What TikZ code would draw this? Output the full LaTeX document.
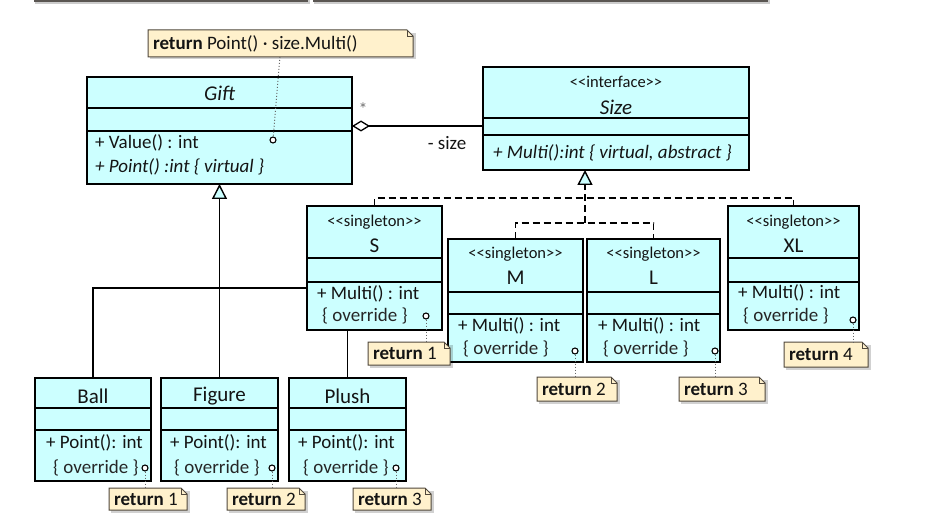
\documentclass[tikz,border=0pt]{standalone}
\usepackage{fontspec}
\setmainfont{Carlito}
\usetikzlibrary{arrows.meta}
\definecolor{clsfill}{RGB}{204,255,255}
\definecolor{notefill}{RGB}{255,241,204}
\definecolor{noteline}{RGB}{80,72,60}
\definecolor{txtc}{RGB}{20,20,20}
\definecolor{barc}{RGB}{90,86,82}

\newcommand\stlt{<\kern0pt<}
\newcommand\stgt{>\kern0pt>}

\newcommand\umlbox[7]{%
  \pgfmathsetmacro\bw{#4-#2}%
  \pgfmathsetmacro\bh{#7-#3}%
  \node[clsbox, minimum width=\bw pt, minimum height=\bh pt] (#1) at ({(#2+#4)/2},{(#3+#7)/2}) {};
  \draw[clsline] (#2,#5) -- (#4,#5);
  \draw[clsline] (#2,#6) -- (#4,#6);
}
\newcommand\umlnote[6]{%
  \pgfmathsetmacro\nw{#4-#2}%
  \pgfmathsetmacro\nh{#5-#3}%
  \fill[black, opacity=0.18] ({#2+2},{#3+3}) rectangle ({#4+2.5},{#5+2.5});
  \filldraw[notebox] (#2,#3) -- ({#4-6},#3) -- (#4,{#3+6}) -- (#4,#5) -- (#2,#5) -- cycle;
  \draw[notebox, fill=none, line width=0.8pt] ({#4-6},#3) -- ({#4-6},{#3+6}) -- (#4,{#3+6});
  \node[inner sep=0pt, outer sep=0pt, minimum width=\nw pt, minimum height=\nh pt] (#1) at ({(#2+#4)/2},{(#3+#5)/2}) {};
  \node[notetxt, anchor=west] (#1-text) at ({#2+5},{(#3+#5)/2}) {#6};
}

\begin{document}
\begin{tikzpicture}[x=1pt,y=-1pt,
  clsbox/.style={draw=black, line width=1.4pt, fill=clsfill, inner sep=0pt, outer sep=0pt},
  clsline/.style={draw=black, line width=1.2pt},
  notebox/.style={draw=noteline, line width=1pt, fill=notefill},
  notetxt/.style={inner sep=0pt, outer sep=0pt, text=txtc, font=\fontsize{19}{22}\selectfont},
  txt/.style={inner sep=0pt, text=txtc, font=\fontsize{19}{22}\selectfont},
  itxt/.style={txt, font=\fontsize{19}{22}\selectfont\itshape},
  nametxt/.style={inner sep=0pt, text=txtc, font=\fontsize{21}{24}\selectfont},
  inametxt/.style={nametxt, font=\fontsize{21}{24}\selectfont\itshape},
  stereo/.style={inner sep=0pt, text=txtc, font=\fontsize{16.5}{19}\selectfont},
  ovr/.style={txt, text=black!85},
  port/.style={circle, draw=black, line width=1.1pt, fill=white, minimum size=6pt, inner sep=0pt},
  dotc/.style={draw=black!60, line width=1pt, dotted},
  gen/.style={draw=black, line width=1.5pt},
  realz/.style={draw=black, line width=1.5pt, dash pattern=on 7pt off 4pt},
  hollowtri/.style={-{Triangle[length=15pt, width=15pt, fill=clsfill, line width=1.4pt]}},
]
\useasboundingbox (0,0) rectangle (931,518);

% cut-off bars at top edge
\fill[black!20] (35,0) rectangle (310,4);
\fill[black!20] (314,0) rectangle (770,4);
\fill[barc] (34,-4) rectangle (308,2);
\fill[barc] (313,-4) rectangle (768,2);

% helper coordinates
\coordinate (jn) at (219.5,288);
\coordinate (aggy) at (0,126);
\coordinate (r1) at (585,198);
\coordinate (r2) at (585,223);
\coordinate (gx) at (280,0);

% ---------- classes ----------
\umlbox{gift}{87}{77}{352}{108}{131}{184}
\umlbox{size}{483}{67}{749}{118}{135}{170}

\umlbox{ball}{35}{378}{151}{408}{430}{481}
\umlbox{figure}{161}{378}{278}{408}{430}{481}
\umlbox{plush}{289}{378}{406}{408}{430}{481}
\draw[gen] (ball.north) |- (jn);
\draw[gen] (plush.north) |- (jn);
\draw[gen, hollowtri] (figure.north) -- (gift.south);

\umlbox{s}{307}{206}{442}{258}{282}{330}
\umlbox{m}{448}{239}{583}{292}{314}{362}
\umlbox{l}{587}{239}{720}{292}{314}{362}
\umlbox{xl}{728}{206}{859}{258}{282}{330}

% realization connectors
\draw[realz] (s.north) -- (s.north |- r1) -- (xl.north |- r1) -- (xl.north);
\draw[realz] (m.north) -- (m.north |- r2) -- (l.north |- r2) -- (l.north);
\draw[realz, hollowtri] (r2) -- (r2 |- size.south);

% aggregation
\draw[gen, line width=1.4pt, {Diamond[length=18pt, width=11pt, fill=white, line width=1.3pt]}-] (gift.east |- aggy) -- (size.west |- aggy);
\node[inner sep=0pt, text=black!55, font=\fontsize{18}{19}\selectfont] (mult) at (363,109) {*};
\node[txt] (role) at (447,143) {- size};

% ---------- texts ----------
\node[inametxt] (giftname) at (219.5,93) {Gift};
\node[txt, anchor=west] (giftop1) at (95,143) {+ Value() : int};
\node[itxt, anchor=west] (giftop2) at (95,167) {+ Point() :int \{ virtual \}};

\node[stereo] (sizest) at (616,82) {\stlt interface\stgt};
\node[inametxt] (sizename) at (616,107) {Size};
\node[itxt, anchor=west] (sizeop) at (493,153) {+ Multi():int \{ virtual, abstract \}};

\node[stereo] (sst) at (374.5,222) {\stlt singleton\stgt};
\node[nametxt] (sname) at (374.5,246) {S};
\node[txt, anchor=west] (sop1) at (317,294) {+ Multi() : int};
\node[ovr, anchor=west] (sop2) at (322,316) {\{ override \}};

\node[stereo] (mst) at (515.5,254) {\stlt singleton\stgt};
\node[nametxt] (mname) at (515.5,278) {M};
\node[txt, anchor=west] (mop1) at (458,326) {+ Multi() : int};
\node[ovr, anchor=west] (mop2) at (463,349) {\{ override \}};

\node[stereo] (lst) at (653.5,254) {\stlt singleton\stgt};
\node[nametxt] (lname) at (653.5,278) {L};
\node[txt, anchor=west] (lop1) at (598,326) {+ Multi() : int};
\node[ovr, anchor=west] (lop2) at (603,349) {\{ override \}};

\node[stereo] (xlst) at (793.5,222) {\stlt singleton\stgt};
\node[nametxt] (xlname) at (793.5,246) {XL};
\node[txt, anchor=west] (xlop1) at (738,293) {+ Multi() : int};
\node[ovr, anchor=west] (xlop2) at (743,316) {\{ override \}};

\node[nametxt] (ballname) at (93,396) {Ball};
\node[txt, anchor=west] (ballop1) at (46,443) {+ Point(): int};
\node[ovr, anchor=west] (ballop2) at (53,468) {\{ override \}};

\node[nametxt] (figname) at (219.5,396) {Figure};
\node[txt, anchor=west] (figop1) at (170,443) {+ Point(): int};
\node[ovr, anchor=west] (figop2) at (174,468) {\{ override \}};

\node[nametxt] (plname) at (347.5,396) {Plush};
\node[txt, anchor=west] (plop1) at (298,443) {+ Point(): int};
\node[ovr, anchor=west] (plop2) at (303,468) {\{ override \}};

% ---------- ports ----------
\node[port] (pgift) at (273,140) {};
\node[port] (ps) at (426,316) {};
\node[port] (pm) at (575,351) {};
\node[port] (pl) at (715,351) {};
\node[port] (pxl) at (853,320) {};
\node[port] (pball) at (145,468) {};
\node[port] (pfig) at (272,468) {};
\node[port] (ppl) at (396,468) {};

% ---------- notes ----------
\umlnote{ngift}{148}{30}{413}{57}{\textbf{return} Point() · size.Multi()}
\umlnote{ns}{368}{342}{450}{365}{\textbf{return} 1}
\umlnote{nm}{537}{377}{617}{401}{\textbf{return} 2}
\umlnote{nl}{679}{377}{765}{401}{\textbf{return} 3}
\umlnote{nxl}{784}{342}{868}{367}{\textbf{return} 4}
\umlnote{nball}{109}{488}{187}{510}{\textbf{return} 1}
\umlnote{nfig}{227}{488}{305}{510}{\textbf{return} 2}
\umlnote{npl}{353}{488}{431}{510}{\textbf{return} 3}

% ---------- note anchors ----------
\draw[dotc] (ngift.south -| gx) -- (pgift);
\draw[dotc] (ps) -- (ps |- ns.north);
\draw[dotc] (pm) -- (pm |- nm.north);
\draw[dotc] (pl) -- (pl |- nl.north);
\draw[dotc] (pxl) -- (pxl |- nxl.north);
\draw[dotc] (pball) -- (pball |- nball.north);
\draw[dotc] (pfig) -- (pfig |- nfig.north);
\draw[dotc] (ppl) -- (ppl |- npl.north);
\end{tikzpicture}
\end{document}
